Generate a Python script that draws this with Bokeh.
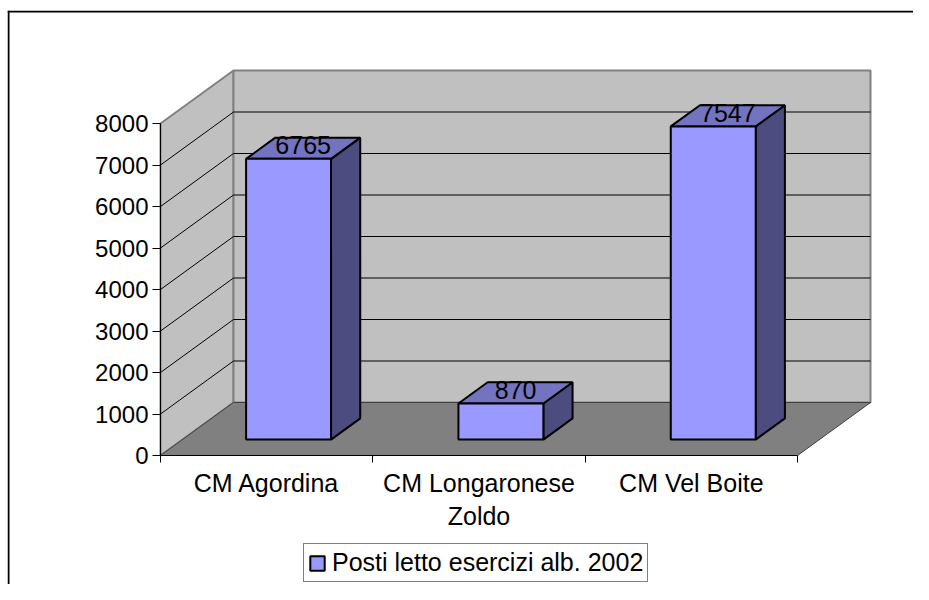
from bokeh.plotting import figure
from bokeh.layouts import column
from bokeh.models import Range1d, FixedTicker, Legend, LegendItem, Span
from bokeh.embed import file_html
from bokeh.resources import INLINE
from bokeh.core.properties import value

# ---- data ----
categories = ["CM Agordina", "CM Longaronese\nZoldo", "CM Vel Boite"]
values = [6765, 870, 7547]
series_name = "Posti letto esercizi alb. 2002"
y_ticks = [0, 1000, 2000, 3000, 4000, 5000, 6000, 7000, 8000]

# ---- layout / style constants ----
W, H = 906, 574
ORIGIN_X = 153                # canvas px of the front-left-bottom corner
ORIGIN_Y = 445                # canvas px (from top) of value 0
PX_PER_CAT = 637 / 3
PX_PER_VAL = 332 / 8000
DX = 73 / PX_PER_CAT          # depth offset in category units
DY = 53 / PX_PER_VAL          # depth offset in value units
D0, D1 = 0.3, 0.7             # bar depth span
HALF_W = 0.2                  # half bar width (category units)
FONT = "Liberation Sans"

ncat = len(categories)
ymax = y_ticks[-1]

x_start = -ORIGIN_X / PX_PER_CAT
y_end = ORIGIN_Y / PX_PER_VAL
p = figure(width=W, height=H, output_backend="svg", toolbar_location=None,
           x_range=Range1d(x_start, x_start + W / PX_PER_CAT),
           y_range=Range1d(y_end - H / PX_PER_VAL, y_end),
           min_border=0,
           background_fill_color="white", border_fill_color="white")
p.outline_line_color = None
p.grid.visible = False

# chart-area border (left and top edges)
p.add_layout(Span(location=x_start + 1 / PX_PER_CAT, dimension="height",
                  line_color="black", line_width=2))
p.add_layout(Span(location=y_end - 1 / PX_PER_VAL, dimension="width",
                  line_color="black", line_width=2))

# walls
p.patch([0, 0, DX, DX], [0, ymax, ymax + DY, DY],
        fill_color="#c0c0c0", line_color="#808080", line_width=2)
p.patch([DX, ncat + DX, ncat + DX, DX], [DY, DY, ymax + DY, ymax + DY],
        fill_color="#c0c0c0", line_color="#808080", line_width=2)
# floor
p.patch([0, ncat, ncat + DX, DX], [0, 0, DY, DY],
        fill_color="#808080", line_color="#404040", line_width=1)

# gridlines on back wall and left wall
gv = y_ticks[1:-1]
p.segment(x0=[DX] * len(gv), y0=[v + DY for v in gv],
          x1=[ncat + DX] * len(gv), y1=[v + DY for v in gv],
          line_color="black", line_width=1)
p.segment(x0=[0] * len(gv), y0=gv, x1=[DX] * len(gv), y1=[v + DY for v in gv],
          line_color="black", line_width=1)

# bars
centers = [i + 0.5 for i in range(ncat)]
side_xs, side_ys, top_xs, top_ys = [], [], [], []
for c, v in zip(centers, values):
    x0, x1 = c - HALF_W, c + HALF_W
    side_xs.append([x1 + D0 * DX, x1 + D1 * DX, x1 + D1 * DX, x1 + D0 * DX])
    side_ys.append([D0 * DY, D1 * DY, v + D1 * DY, v + D0 * DY])
    top_xs.append([x0 + D0 * DX, x1 + D0 * DX, x1 + D1 * DX, x0 + D1 * DX])
    top_ys.append([v + D0 * DY, v + D0 * DY, v + D1 * DY, v + D1 * DY])
p.patches(side_xs, side_ys, fill_color="#4c4c80", line_color="black", line_width=2)
p.patches(top_xs, top_ys, fill_color="#7373bf", line_color="black", line_width=2)
front = p.quad(left=[c - HALF_W + D0 * DX for c in centers],
               right=[c + HALF_W + D0 * DX for c in centers],
               bottom=[D0 * DY] * ncat,
               top=[v + D0 * DY for v in values],
               fill_color="#9999ff", line_color="black", line_width=2)

# data labels
p.text(x=[c + (D0 + D1) / 2 * DX for c in centers],
       y=[v + (D0 + D1) / 2 * DY for v in values],
       text=[str(v) for v in values],
       text_align="center", text_baseline="alphabetic", y_offset=-3,
       text_font=value(FONT), text_font_size="25px", text_color="black")

# y axis (drawn at the front-left edge)
ya = p.yaxis[0]
ya.fixed_location = 0
ya.ticker = FixedTicker(ticks=y_ticks)
ya.bounds = (0, ymax)
ya.major_tick_out = 8
ya.major_tick_in = 0
ya.minor_tick_line_color = None
ya.major_label_standoff = 4
ya.major_label_text_font = FONT
ya.major_label_text_font_size = "24px"
ya.major_label_text_color = "black"
ya.axis_line_color = "black"
ya.major_tick_line_color = "black"

# x axis (drawn at the front-bottom edge)
xa = p.xaxis[0]
xa.fixed_location = 0
xa.ticker = FixedTicker(ticks=centers, minor_ticks=list(range(ncat + 1)))
xa.bounds = (0, ncat)
xa.major_label_overrides = {c: lab for c, lab in zip(centers, categories)}
xa.major_tick_line_color = None
xa.major_tick_out = 7
xa.minor_tick_out = 7
xa.minor_tick_in = 0
xa.minor_tick_line_color = "black"
xa.major_label_standoff = 6
xa.major_label_text_font = FONT
xa.major_label_text_font_size = "25px"
xa.major_label_text_color = "black"
xa.axis_line_color = "black"

# legend
legend = Legend(items=[LegendItem(label=series_name, renderers=[front])],
                location=(296, 2), orientation="horizontal",
                glyph_width=18, glyph_height=18, label_standoff=6,
                padding=4, margin=0, spacing=0,
                label_text_font=FONT, label_text_font_size="25px",
                label_text_color="black",
                border_line_color="black", border_line_width=1,
                background_fill_color="white", background_fill_alpha=1)
p.add_layout(legend, "center")

layout = column(p, styles={"margin-left": "7px", "margin-top": "10px"})
open("out.html", "w").write(file_html(layout, INLINE))
